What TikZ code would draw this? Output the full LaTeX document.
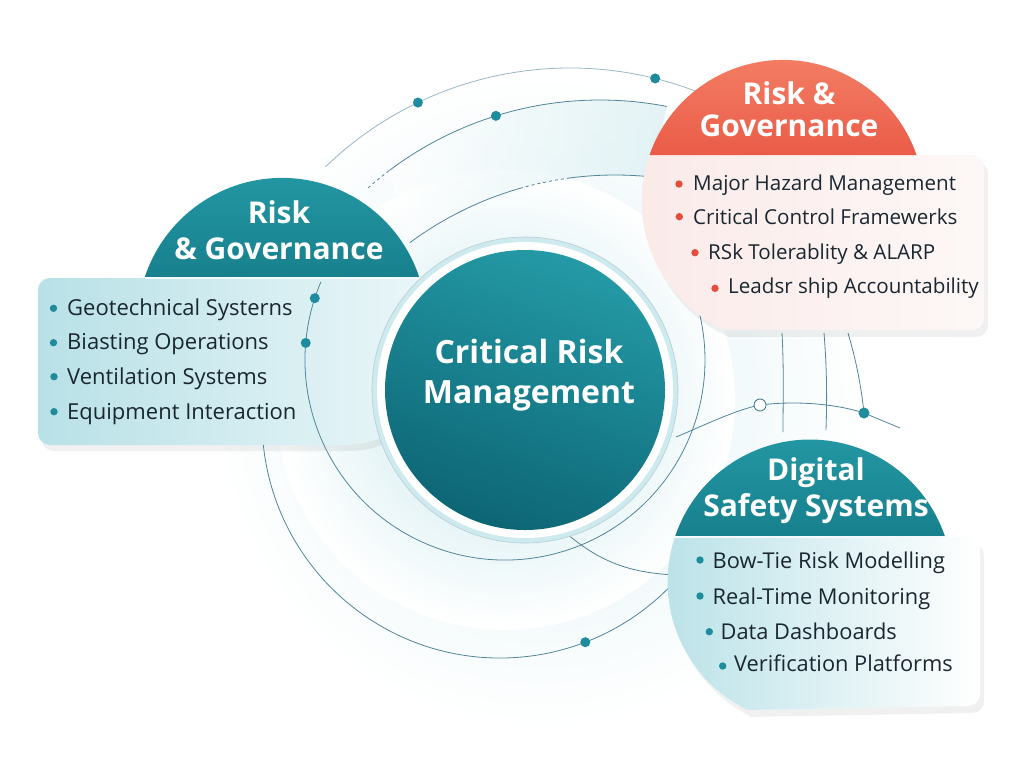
\documentclass[tikz,border=0pt]{standalone}
\usepackage{fontspec}
\setmainfont{Open Sans}
\usetikzlibrary{calc}
\definecolor{crmTeal}{RGB}{24,128,141}
\definecolor{crmTealLight}{RGB}{36,154,166}
\definecolor{crmTealDark}{RGB}{13,101,116}
\definecolor{crmMist}{RGB}{184,225,231}
\definecolor{crmCoral}{RGB}{234,92,72}
\definecolor{crmCoralLight}{RGB}{245,130,104}
\definecolor{crmBlush}{RGB}{250,234,232}
\definecolor{crmInk}{RGB}{26,38,48}
\definecolor{crmLine}{RGB}{52,112,135}
\definecolor{crmDot}{RGB}{30,140,156}
\definecolor{crmRed}{RGB}{228,78,60}

\tikzset{
  arcline/.style={crmLine!85, line width=0.8pt},
  faintline/.style={crmLine!50, line width=0.8pt},
  tealdot/.style={fill=crmDot},
  reddot/.style={fill=crmRed},
  bubblehead/.style={text=white, font=\bfseries\fontsize{30}{36}\selectfont, align=center, anchor=base, inner sep=0pt},
  listitem/.style={text=crmInk, font=\fontsize{22}{26}\selectfont, anchor=base west, inner sep=0pt},
  panelshadow/.style={fill=black, opacity=0.06},
}

\begin{document}
\begin{tikzpicture}[x=1pt,y=-1pt]
\useasboundingbox (0,0) rectangle (1024,777);

% soft wash behind the rings
\shade[inner color=crmMist!45, outer color=white] (540,400) circle[radius=330];
\shade[inner color=crmMist!80, outer color=white] (505,400) circle[radius=230];
\shade[left color=white, right color=crmMist!55, opacity=0.7] ([shift={(233:350)}]600,450) arc[start angle=233, end angle=281, radius=350] -- ([shift={(276:345)}]615,520) arc[start angle=276, end angle=233.5, radius=345] -- cycle;

% left bubble
\fill[panelshadow] (425,284) -- (54,284) arc[start angle=270, end angle=180, radius=12] -- (42,439) arc[start angle=180, end angle=90, radius=12] -- (349,451) .. controls (399,451) and (425,416) .. (425,371) -- cycle;
\shade[left color=crmMist, right color=crmMist!30] (421,278) -- (50,278) arc[start angle=270, end angle=180, radius=12] -- (38,433) arc[start angle=180, end angle=90, radius=12] -- (345,445) .. controls (395,445) and (421,410) .. (421,365) -- cycle;
\shade[top color=crmTealLight, bottom color=crmTeal] (144.5,278) arc[start angle=197.9, end angle=342.1, radius=144.5] -- cycle;
\draw[white!85!crmMist, line width=1.2pt] (144.5,278) -- (419.5,278);

% rings
\draw[faintline] ([shift={(226:352)}]570,420) arc[start angle=226, end angle=292, radius=352];
\draw[arcline, dashed] ([shift={(228.5:350)}]600,450) arc[start angle=228.5, end angle=233, radius=350];
\draw[arcline] ([shift={(233:350)}]600,450) arc[start angle=233, end angle=281, radius=350];
\draw[arcline] ([shift={(233.5:345)}]615,520) arc[start angle=233.5, end angle=254, radius=345];
\draw[arcline, dashed] ([shift={(254:345)}]615,520) arc[start angle=254, end angle=262, radius=345];
\draw[arcline] ([shift={(262:345)}]615,520) arc[start angle=262, end angle=276, radius=345];
\draw[arcline] ([shift={(203:200)}]505,360) arc[start angle=203, end angle=-35, radius=200];
\draw[arcline] ([shift={(174:238)}]500,420) arc[start angle=174, end angle=38, radius=238];
\draw[arcline] (566,533) .. controls (600,562) and (630,573) .. (676,575);
\draw[arcline] (676,437) .. controls (705,425) and (735,410) .. (760,405) .. controls (800,400) and (840,405) .. (864,413) -- (900,428);
\draw[arcline] (782,333) .. controls (784,370) and (783,400) .. (783,432);
\draw[arcline] (824,333) .. controls (827,370) and (827,400) .. (826,430);
\draw[arcline] (848,333) .. controls (856,360) and (861,385) .. (864,413);

\fill[tealdot] ([shift={(244.4:352)}]570,420) circle[radius=5];
\fill[tealdot] ([shift={(284:352)}]570,420) circle[radius=5];
\fill[tealdot] ([shift={(252.7:350)}]600,450) circle[radius=5];
\fill[tealdot] ([shift={(198:200)}]505,360) circle[radius=5];
\fill[tealdot] ([shift={(184.9:200)}]505,360) circle[radius=5];
\fill[tealdot] ([shift={(69:238)}]500,420) circle[radius=5];
\fill[tealdot] (864,413) circle[radius=5.5];
\draw[crmLine, fill=white, line width=0.8pt] (760,405) circle[radius=6];

% centre
\fill[crmMist!70] (525,390) circle[radius=153];
\fill[white] (525,390) circle[radius=148];
\draw[crmLine!35, line width=0.6pt] (525,390) circle[radius=153];
\shade[top color=crmTealLight, bottom color=crmTealDark, shading angle=-20] (525,390) circle[radius=140];

% top right bubble
\fill[panelshadow] (653.5,162) arc[start angle=199.1, end angle=114.4, radius=141.3] -- (976,337) arc[start angle=90, end angle=0, radius=12] -- (988,174) arc[start angle=0, end angle=-90, radius=12] -- cycle;
\shade[left color=crmBlush, right color=crmBlush!35] (649.5,155) arc[start angle=199.1, end angle=114.4, radius=141.3] -- (972,330) arc[start angle=90, end angle=0, radius=12] -- (984,167) arc[start angle=0, end angle=-90, radius=12] -- cycle;
\shade[top color=crmCoralLight, bottom color=crmCoral] (649.5,155) arc[start angle=199.1, end angle=340.9, radius=141.3] -- cycle;

% bottom right bubble
\fill[panelshadow] (678.9,544) arc[start angle=198.4, end angle=116, radius=142.4] -- (972,713) arc[start angle=90, end angle=0, radius=12] -- (984,556) arc[start angle=0, end angle=-90, radius=12] -- cycle;
\shade[left color=crmMist, right color=white] (674.9,537) arc[start angle=198.4, end angle=116, radius=142.4] -- (968,706) arc[start angle=90, end angle=0, radius=12] -- (980,549) arc[start angle=0, end angle=-90, radius=12] -- cycle;
\shade[top color=crmTealLight, bottom color=crmTeal] (674.9,537) arc[start angle=198.4, end angle=341.6, radius=142.4] -- cycle;
\draw[white!85!crmMist, line width=1.2pt] (674.9,537) -- (945.1,537);

% titles
\node[bubblehead] (lgTitle) at (279,259.3) {Risk\\\& Governance};
\node[bubblehead, font=\bfseries\fontsize{30}{32}\selectfont] (rgTitle) at (789,136) {Risk \&\\Governance};
\node[bubblehead] (dsTitle) at (816,516.7) {Digital\\Safety Systems};
\node[bubblehead, font=\bfseries\fontsize{32}{40}\selectfont] (crmTitle) at (529,403.3) {Critical Risk\\Management};

% left list
\fill[tealdot] (53.5,308.3) circle[radius=3.7];
\fill[tealdot] (53.5,342.7) circle[radius=3.7];
\fill[tealdot] (54,376.7) circle[radius=3.7];
\fill[tealdot] (54,411.7) circle[radius=3.7];
\node[listitem] (lgA) at (67,315) {Geotechnical Systerns};
\node[listitem] (lgB) at (67,349.5) {Biasting Operations};
\node[listitem] (lgC) at (67,384) {Ventilation Systems};
\node[listitem] (lgD) at (67,419) {Equipment Interaction};

% top right list
\fill[reddot] (679,184) circle[radius=3.7];
\fill[reddot] (679.3,216.7) circle[radius=3.7];
\fill[reddot] (695,252.7) circle[radius=3.7];
\fill[reddot] (715,288.3) circle[radius=3.7];
\node[listitem, font=\fontsize{20.6}{25}\selectfont] (rgA) at (693,190.7) {Major Hazard Management};
\node[listitem, font=\fontsize{20.6}{25}\selectfont] (rgB) at (693,224.3) {Critical Control Framewerks};
\node[listitem, font=\fontsize{20.6}{25}\selectfont] (rgC) at (708,259) {RSk Tolerablity \& ALARP};
\node[listitem, font=\fontsize{20.6}{25}\selectfont] (rgD) at (728,293.3) {Leadsr ship Accountability};

% bottom right list
\fill[tealdot] (700,560) circle[radius=3.7];
\fill[tealdot] (700,596) circle[radius=3.7];
\fill[tealdot] (709.3,631.7) circle[radius=3.7];
\fill[tealdot] (722.7,666) circle[radius=3.7];
\node[listitem, font=\fontsize{21.8}{26}\selectfont] (dsA) at (712.5,568.3) {Bow-Tie Risk Modelling};
\node[listitem, font=\fontsize{21.8}{26}\selectfont] (dsB) at (712.5,604) {Real-Time Monitoring};
\node[listitem, font=\fontsize{21.8}{26}\selectfont] (dsC) at (720.5,639) {Data Dashboards};
\node[listitem, font=\fontsize{21.8}{26}\selectfont] (dsD) at (734,671.7) {Verification Platforms};
\end{tikzpicture}
\end{document}
